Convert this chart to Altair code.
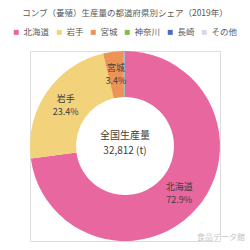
import altair as alt
import pandas as pd

prefs = ["北海道", "岩手", "宮城", "神奈川", "長崎", "その他"]
values = [23920, 7678, 1116, 50, 30, 18]
shares = ["72.9%", "23.4%", "3.4%", "", "", ""]
colors = ["#e8679f", "#f2d27a", "#ec9458", "#7cc144", "#4a6cc4", "#d8d8e6"]
title_text = "コンブ（養殖）生産量の都道府県別シェア（2019年）"
center_lines = ["全国生産量", "32,812 (t)"]
credit = "食品データ館"

df = pd.DataFrame({
    "pref": prefs,
    "value": values,
    "order": list(range(len(prefs))),
    "name": [p if s else "" for p, s in zip(prefs, shares)],
    "share": shares,
})

FONT = "Noto Sans CJK JP"

base = alt.Chart(df).encode(
    theta=alt.Theta("value:Q", stack=True),
    order=alt.Order("order:Q"),
)

arc = base.mark_arc(outerRadius=95, innerRadius=49, stroke=None).encode(
    color=alt.Color(
        "pref:N",
        scale=alt.Scale(domain=prefs, range=colors),
        sort=prefs,
        legend=alt.Legend(
            title=None,
            orient="none",
            legendX=-18,
            legendY=-23,
            direction="horizontal",
            columns=6,
            symbolType="square",
            symbolSize=25,
            symbolStrokeWidth=0,
            labelFont=FONT,
            labelFontSize=8.5,
            labelColor="#595959",
            columnPadding=5,
            labelOffset=3,
            padding=0,
        ),
    )
)

name_lbl = base.mark_text(
    radius=72, font=FONT, fontSize=9, color="#404040", align="center", baseline="middle", dy=-6.5
).encode(text="name:N")
share_lbl = base.mark_text(
    radius=72, font=FONT, fontSize=9, color="#404040", align="center", baseline="middle", dy=6.5
).encode(text="share:N")

cdf = pd.DataFrame({"t": center_lines, "k": [0, 1]})
center1 = alt.Chart(cdf.iloc[[0]]).mark_text(
    font=FONT, fontSize=10, color="#404040", align="center", baseline="middle", dy=-8
).encode(text="t:N", x=alt.value(95), y=alt.value(93))
center2 = alt.Chart(cdf.iloc[[1]]).mark_text(
    font=FONT, fontSize=10, color="#404040", align="center", baseline="middle", dy=7
).encode(text="t:N", x=alt.value(95), y=alt.value(93))

wm = alt.Chart(pd.DataFrame({"t": [credit]})).mark_text(
    font=FONT, fontSize=8, color="#c8c8c8", align="right", baseline="middle"
).encode(text="t:N", x=alt.value(215), y=alt.value(187))

chart = alt.layer(arc, name_lbl, share_lbl, center1, center2, wm).properties(
    width=190,
    height=190,
    padding={"top": 51, "bottom": 9, "left": 30, "right": 30},
    autosize=alt.AutoSizeParams(type="none"),
    title=alt.TitleParams(
        title_text, font=FONT, fontSize=8.5, fontWeight="normal", color="#595959", anchor="middle", offset=11
    ),
).configure_view(stroke=None).configure(background="white")

chart.save("out.html", embed_options={"renderer": "svg", "actions": False})
